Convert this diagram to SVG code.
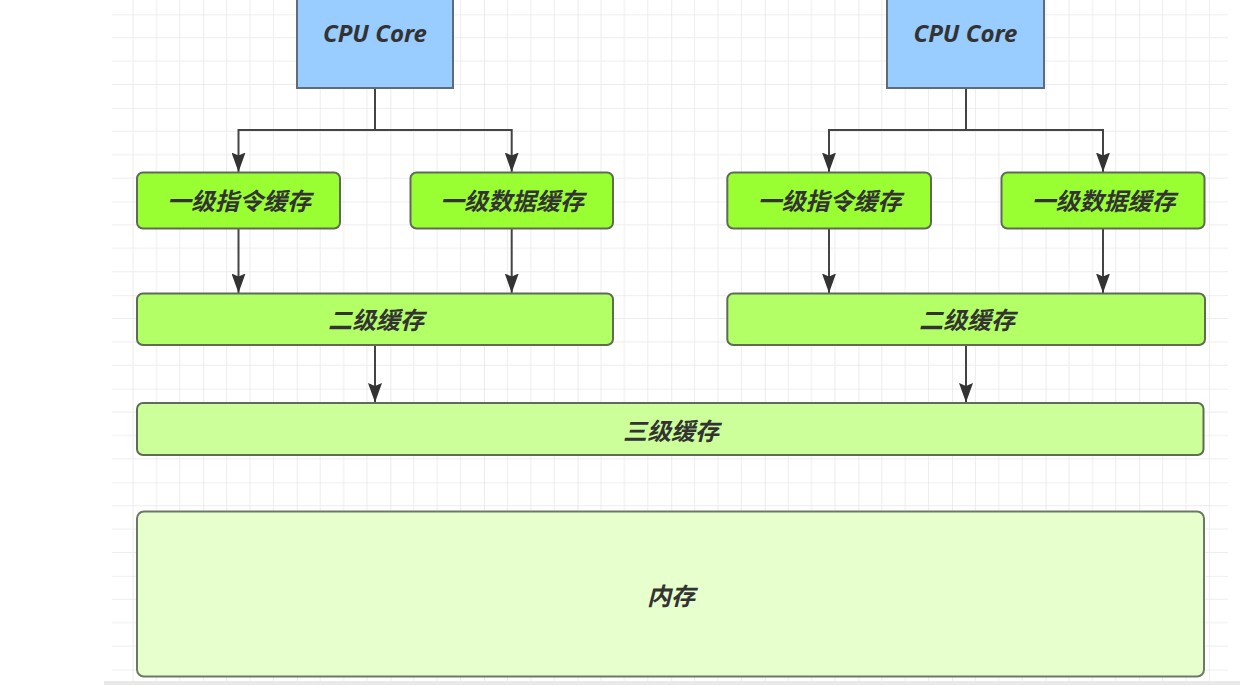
<svg xmlns="http://www.w3.org/2000/svg" width="1255" height="685" viewBox="0 0 1255 685">
  <style>
    .lbl { font-family: "Noto Sans", "Noto Sans CJK SC", sans-serif; font-size: 24px; font-weight: 700; font-style: italic; fill: #333333; text-anchor: middle; }
    .cpu { fill: #99ccff; stroke: #5f6b78; stroke-width: 2; }
    .l1 { fill: #99ff33; stroke: #5e6b55; stroke-width: 2; }
    .l2 { fill: #b3ff66; stroke: #5e6b55; stroke-width: 2; }
    .l3 { fill: #ccff99; stroke: #5e6b55; stroke-width: 2; }
    .mem { fill: #e6ffcc; stroke: #6b7a66; stroke-width: 2; }
    .edge { fill: none; stroke: #444444; stroke-width: 2; }
  </style>
  <defs>
    <pattern id="grid" patternUnits="userSpaceOnUse" x="16" y="14.3" width="93.6" height="93.6">
      <path d="M23.4 0 V93.6 M46.8 0 V93.6 M70.2 0 V93.6 M0 23.4 H93.6 M0 46.8 H93.6 M0 70.2 H93.6" stroke="#ededed" stroke-width="1" fill="none"/>
      <path d="M0 0 V93.6 M0 0 H93.6" stroke="#e0e0e0" stroke-width="1.2" fill="none"/>
    </pattern>
    <marker id="arrow" markerUnits="userSpaceOnUse" markerWidth="20" markerHeight="14" viewBox="0 0 20 14" refX="19.5" refY="7" orient="auto">
      <path d="M0 0 L19.5 7 L0 14 L3 7 Z" fill="#333333"/>
    </marker>
  </defs>

  <rect x="0" y="0" width="1255" height="685" fill="#ffffff"/>
  <rect x="112" y="0" width="1116" height="681" fill="url(#grid)"/>
  <rect x="104" y="681" width="1136" height="4" fill="#e9e9e9"/>

  <g id="connectors">
    <path class="edge" d="M375 88 V130 H238.5 V172" marker-end="url(#arrow)"/>
    <path class="edge" d="M375 88 V130 H511.7 V172" marker-end="url(#arrow)"/>
    <path class="edge" d="M238.5 228.5 V293" marker-end="url(#arrow)"/>
    <path class="edge" d="M511.7 228.5 V293" marker-end="url(#arrow)"/>
    <path class="edge" d="M375 345 V402.5" marker-end="url(#arrow)"/>
    <path class="edge" d="M966 88 V130 H829 V172" marker-end="url(#arrow)"/>
    <path class="edge" d="M966 88 V130 H1103 V172" marker-end="url(#arrow)"/>
    <path class="edge" d="M829 228.5 V293" marker-end="url(#arrow)"/>
    <path class="edge" d="M1103 228.5 V293" marker-end="url(#arrow)"/>
    <path class="edge" d="M966 345 V402.5" marker-end="url(#arrow)"/>
  </g>

  <g id="cpu-core-1">
    <rect class="cpu" x="297" y="-22" width="156" height="110"/>
    <text class="lbl" x="375" y="42">CPU Core</text>
  </g>
  <g id="cpu-core-2">
    <rect class="cpu" x="887" y="-22" width="157" height="110"/>
    <text class="lbl" x="965.5" y="42">CPU Core</text>
  </g>

  <g id="l1i-1">
    <rect class="l1" x="137" y="172.5" width="203" height="56" rx="6"/>
    <text class="lbl" x="239" y="210">一级指令缓存</text>
  </g>
  <g id="l1d-1">
    <rect class="l1" x="410.5" y="172.5" width="202.5" height="56" rx="6"/>
    <text class="lbl" x="512" y="210">一级数据缓存</text>
  </g>
  <g id="l1i-2">
    <rect class="l1" x="727.3" y="172.5" width="203.7" height="56" rx="6"/>
    <text class="lbl" x="829.5" y="210">一级指令缓存</text>
  </g>
  <g id="l1d-2">
    <rect class="l1" x="1001.5" y="172.5" width="203" height="56" rx="6"/>
    <text class="lbl" x="1103.5" y="210">一级数据缓存</text>
  </g>

  <g id="l2-1">
    <rect class="l2" x="137" y="293.5" width="476" height="51.5" rx="6"/>
    <text class="lbl" x="376" y="329">二级缓存</text>
  </g>
  <g id="l2-2">
    <rect class="l2" x="727.3" y="293.5" width="477.7" height="51.5" rx="6"/>
    <text class="lbl" x="967" y="329">二级缓存</text>
  </g>

  <g id="l3">
    <rect class="l3" x="137" y="403" width="1066.5" height="52" rx="6"/>
    <text class="lbl" x="671" y="440">三级缓存</text>
  </g>

  <g id="memory">
    <rect class="mem" x="137" y="511.5" width="1067" height="165" rx="7"/>
    <text class="lbl" x="671" y="605">内存</text>
  </g>
</svg>
